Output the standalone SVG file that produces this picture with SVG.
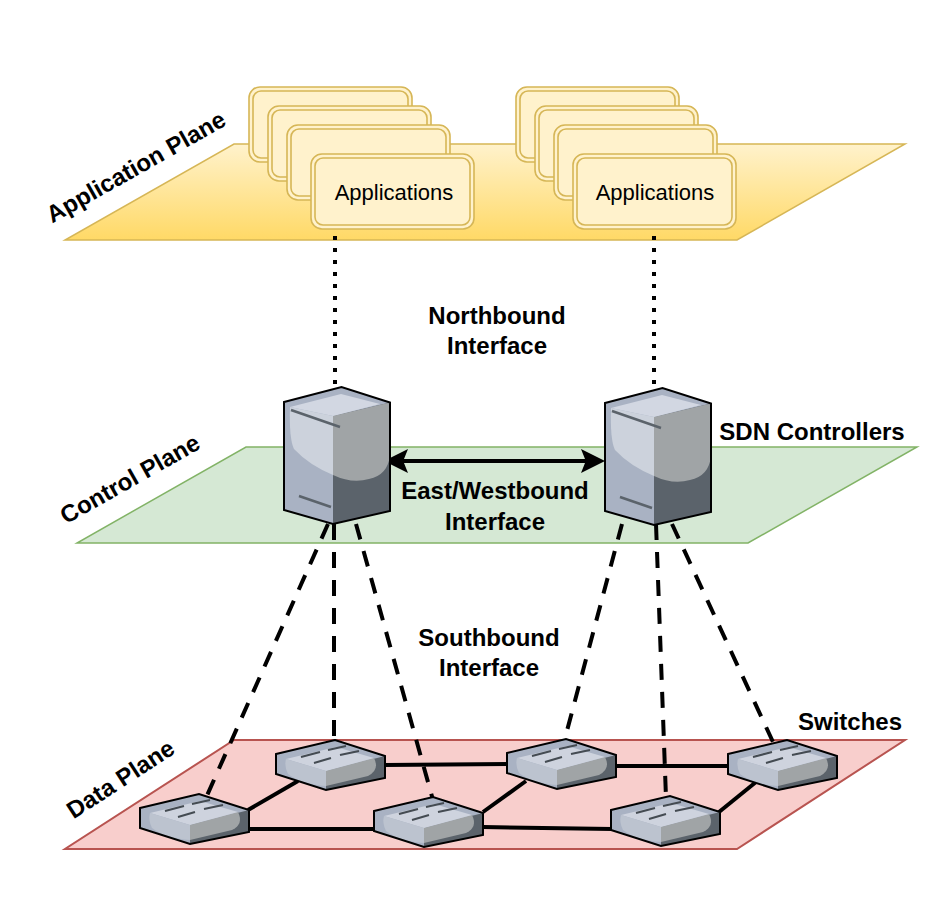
<svg xmlns="http://www.w3.org/2000/svg" xmlns:xlink="http://www.w3.org/1999/xlink" width="949" height="897" viewBox="0 0 949 897">
<style>
text{font-family:"Liberation Sans",Arial,sans-serif;fill:#000}
.b{font-weight:bold;font-size:24px;text-anchor:middle}
.ap{font-size:22px;text-anchor:middle}
.o{fill:#fff2cc;stroke:#d6b656;stroke-width:1.6}
.dash{fill:none;stroke:#000;stroke-width:4;stroke-dasharray:16 12}
.dot{fill:none;stroke:#000;stroke-width:4;stroke-dasharray:4 8}
.link{fill:none;stroke:#000;stroke-width:4}
</style>
<defs>
<linearGradient id="yg" x1="0" y1="0" x2="0" y2="1"><stop offset="0" stop-color="#fff2cc"/><stop offset="1" stop-color="#ffd966"/></linearGradient>
<marker id="ah" markerWidth="6" markerHeight="6" refX="5" refY="3" orient="auto-start-reverse" markerUnits="strokeWidth"><path d="M0 0L6 3L0 6L1.2 3Z" fill="#000"/></marker>
<g id="app"><rect x="0" y="0" width="163" height="75" rx="11" class="o"/><rect x="4" y="4" width="155" height="67" rx="8" class="o"/></g>
<g id="server">
<path d="M0 15L57.500 0L106 15.500V124L49 137L0 123Z" fill="#a9b2c3"/>
<path d="M49 29L106 15.500V124L49 137Z" fill="#5b636b"/>
<path d="M49 29L106 15.500V68Q104 88 85 92Q68 97 49 88Z" fill="#a0a4a6"/>
<path d="M6 20L57 7L96 17L49 29Z" fill="#d2d7e2"/>
<path d="M6 20L49 29V88Q25 78 10 62Q5 52 6 20Z" fill="#ccd2dc"/>
<path d="M7 23L56 40M15 109L47 120" fill="none" stroke="#5b636b" stroke-width="2.500"/>
<path d="M0 15L57.500 0L106 15.500V124L49 137L0 123Z" fill="none" stroke="#000" stroke-width="2"/>
</g>
<g id="switch">
<path d="M0 14L59 0L109 16V38L50 50L0 34Z" fill="#a9b2c3"/>
<path d="M50 31L109 16V38L50 50Z" fill="#5b636b"/>
<path d="M50 31L98 18Q104 30 92 36L50 46Z" fill="#a0a4a6"/>
<path d="M10 19L60 7L98 18L50 31Z" fill="#ced3de"/>
<path d="M10 19L50 31V46Q25 44 12 34Q8 26 10 19Z" fill="#bcc3cf"/>
<path d="M25 17L44 12M52 10L70 6M38 23L55 18M64 15L83 11" stroke="#444b52" stroke-width="2" fill="none"/>
<path d="M0 14L59 0L109 16V38L50 50L0 34Z" fill="none" stroke="#000" stroke-width="2"/>
</g>
</defs>
<g id="application-plane">
<path d="M234 144H905L737 240H65Z" fill="url(#yg)" stroke="#d6b656" stroke-width="1.500"/>
<text class="b" transform="translate(140 174) rotate(-29.500)">Application Plane</text>
</g>
<g id="control-plane">
<path d="M246 447H917L748 543H77Z" fill="#d5e8d4" stroke="#82b366" stroke-width="1.500"/>
<text class="b" transform="translate(134 486) rotate(-29.500)">Control Plane</text>
</g>
<g id="data-plane">
<path d="M234 740H905L737 849H65Z" fill="#f8cecc" stroke="#b85450" stroke-width="2"/>
<text class="b" transform="translate(125 786) rotate(-33)">Data Plane</text>
</g>
<g id="connectors">
<path class="dot" d="M335 236V390"/>
<path class="dot" d="M654 236V390"/>
<path class="link" d="M388 461H601" marker-start="url(#ah)" marker-end="url(#ah)"/>
<path class="dash" d="M328 524L205 800"/>
<path class="dash" d="M334 524V742"/>
<path class="dash" d="M356 524L433 800"/>
<path class="dash" d="M622 524L564 742"/>
<path class="dash" d="M656 524L666 798"/>
<path class="dash" d="M672 524L773 742"/>
<path class="link" d="M248 810L298 781"/>
<path class="link" d="M245 829H375"/>
<path class="link" d="M385 765L508 764"/>
<path class="link" d="M483 827L612 829"/>
<path class="link" d="M483 812L526 781"/>
<path class="link" d="M617 766H729"/>
<path class="link" d="M719 812L756 782"/>
</g>
<g id="apps-left">
<use href="#app" x="249" y="87"/><use href="#app" x="268" y="106"/><use href="#app" x="287" y="125"/>
<use href="#app" x="311" y="154"/>
<text class="ap" x="394" y="200">Applications</text>
</g>
<g id="apps-right">
<use href="#app" x="516" y="87"/><use href="#app" x="535" y="106"/><use href="#app" x="554" y="125"/>
<use href="#app" x="573" y="154"/>
<text class="ap" x="655" y="200">Applications</text>
</g>
<g id="controller-1"><use href="#server" x="284" y="387"/></g>
<g id="controller-2"><use href="#server" x="605" y="388"/></g>
<g id="switch-1"><use href="#switch" x="140" y="794"/></g>
<g id="switch-2"><use href="#switch" x="276" y="740"/></g>
<g id="switch-3"><use href="#switch" x="507" y="739"/></g>
<g id="switch-4"><use href="#switch" x="728" y="740"/></g>
<g id="switch-5"><use href="#switch" x="374" y="797"/></g>
<g id="switch-6"><use href="#switch" x="611" y="796"/></g>
<g id="labels">
<text class="b" x="497" y="324">Northbound</text>
<text class="b" x="497" y="354">Interface</text>
<text class="b" x="495" y="499">East/Westbound</text>
<text class="b" x="495" y="530">Interface</text>
<text class="b" x="489" y="646">Southbound</text>
<text class="b" x="489" y="676">Interface</text>
<text class="b" x="812" y="440">SDN Controllers</text>
<text class="b" x="850" y="730">Switches</text>
</g>
</svg>
